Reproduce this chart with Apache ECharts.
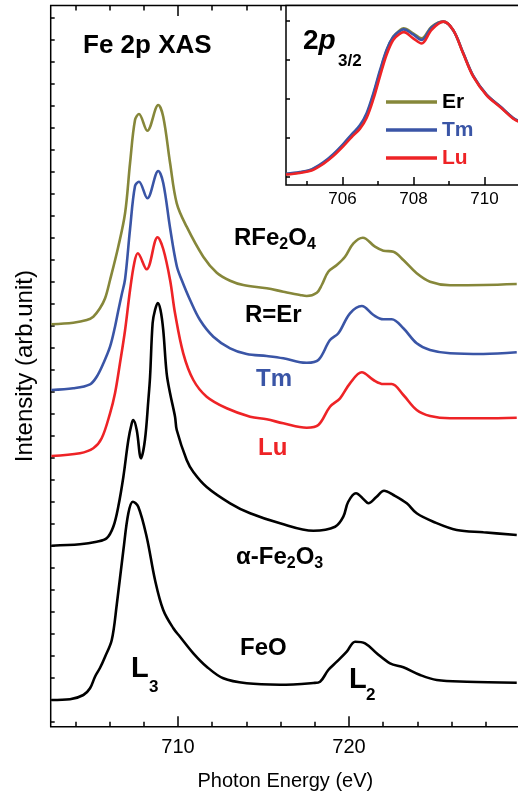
<!DOCTYPE html>
<html><head><meta charset="utf-8">
<script src="https://cdn.jsdelivr.net/npm/echarts@6/dist/echarts.min.js"></script>
<style>html,body{margin:0;padding:0;overflow:hidden;background:#fff}#c{width:520px;height:797px}</style>
</head><body><div id="c"></div>
<script>
// ---------- data (photon energy eV, intensity arb. units) ----------
const erMain = [[702.6,40.24],[703.88,40.40],[704.67,40.67],[705.05,41.0],[705.44,41.84],[705.74,42.84],[706.03,44.67],[706.51,48.0],[706.91,51.37],[707.2,56.37],[707.49,60.67],[707.72,61.27],[708.21,59.6],[708.85,62.17],[709.14,61.0],[709.54,56.37],[709.93,52.34],[710.51,50.0],[711.48,47.0],[712.27,45.4],[713.05,44.6],[713.82,44.17],[715.19,43.84],[716.16,43.5],[717.14,43.17],[717.53,43.07],[718.12,43.4],[718.41,44.17],[718.79,45.5],[719.29,46.17],[719.77,47.0],[720.26,48.34],[720.81,48.9],[721.52,48.0],[722.01,47.6],[722.6,47.5],[723.18,46.67],[723.96,45.34],[724.74,44.5],[725.91,44.14],[727.86,44.17],[729.81,44.27]];
const tmMain = [[702.6,33.67],[703.88,33.84],[704.86,34.24],[705.25,35.0],[705.64,36.34],[706.03,38.0],[706.32,40.0],[706.51,41.6],[706.71,43.2],[706.91,44.77],[707.2,49.77],[707.49,54.07],[707.72,54.5],[708.21,52.84],[708.85,55.57],[709.14,54.37],[709.54,49.87],[709.93,46.07],[710.22,44.67],[710.71,42.67],[711.29,40.67],[712.07,39.0],[713.05,37.84],[714.02,37.27],[715.19,37.07],[716.16,36.84],[717.14,36.45],[717.53,36.4],[718.21,36.67],[718.89,38.67],[719.38,39.34],[720.06,41.34],[720.75,42.07],[721.43,41.17],[722.01,40.74],[722.5,40.74],[723.18,39.84],[723.96,38.34],[724.74,37.67],[725.91,37.34],[727.86,37.27],[729.81,37.44]];
const luMain = [[702.6,27.07],[704.27,27.34],[705.05,27.84],[705.54,28.84],[706.03,31.34],[706.32,33.34],[706.61,36.34],[706.91,39.67],[707.2,43.67],[707.45,46.4],[707.65,47.34],[708.17,45.74],[708.81,48.94],[709.14,47.77],[709.54,44.67],[709.83,41.34],[710.31,37.34],[710.9,34.67],[711.68,33.0],[712.85,31.84],[714.22,31.0],[715.19,30.74],[716.16,30.34],[717.53,29.9],[718.21,30.17],[718.89,32.0],[719.48,32.84],[720.06,34.34],[720.75,35.44],[721.43,34.67],[722.01,34.27],[722.5,34.27],[723.18,33.17],[723.96,31.67],[724.74,31.07],[725.91,30.84],[727.86,30.84],[729.81,30.9]];
const fe2o3 = [[702.6,18.1],[704.27,18.24],[705.25,18.5],[705.83,18.84],[706.22,20.0],[706.51,22.0],[706.81,25.0],[707.1,28.67],[707.3,30.34],[707.39,30.67],[707.59,29.67],[707.84,26.84],[708.07,28.67],[708.27,32.67],[708.37,35.0],[708.52,40.37],[708.66,41.67],[708.82,42.37],[708.98,41.67],[709.14,39.67],[709.34,35.34],[709.54,33.34],[709.83,31.0],[709.93,29.67],[710.51,26.67],[710.9,25.47],[711.68,23.97],[713.05,22.34],[714.22,21.34],[715.97,20.34],[717.92,19.6],[719.19,20.0],[719.67,21.0],[719.95,22.47],[720.41,23.34],[720.9,22.67],[721.13,22.34],[721.6,22.97],[722.05,23.6],[722.6,23.17],[723.38,22.34],[723.96,21.34],[724.93,20.5],[726.3,19.67],[727.86,19.44],[729.81,19.17]];
const feo = [[702.6,2.67],[703.69,2.74],[704.47,3.17],[704.86,3.84],[705.15,5.0],[705.44,5.87],[705.74,7.0],[706.13,8.67],[706.42,12.17],[706.81,17.67],[707.1,21.34],[707.36,22.5],[707.68,22.0],[708.17,19.0],[708.66,14.67],[709.14,11.67],[709.73,9.84],[710.12,9.0],[710.9,7.34],[711.68,6.0],[712.65,4.84],[714.02,4.34],[715.97,4.2],[717.92,4.37],[718.31,4.5],[718.79,5.67],[719.29,6.5],[719.87,7.5],[720.36,8.5],[720.94,8.34],[721.62,7.34],[722.4,6.34],[723.18,5.94],[724.16,5.17],[725.13,4.67],[726.89,4.5],[729.81,4.4]];
// inset (2p3/2 normalized)
const erIn = [[704.41,0.28],[704.8,0.32],[705.13,0.39],[705.46,0.56],[705.74,0.77],[706.02,1.03],[706.26,1.28],[706.49,1.5],[706.68,1.8],[706.87,2.31],[707.06,2.91],[707.25,3.46],[707.43,3.8],[707.62,3.97],[707.72,4.02],[707.99,3.89],[708.23,3.76],[708.51,4.06],[708.84,4.19],[709.12,3.97],[709.4,3.38],[709.69,2.78],[710.06,2.31],[710.44,2.01],[710.81,1.71],[711.0,1.62]];
const tmIn = [[704.41,0.29],[704.8,0.33],[705.13,0.4],[705.46,0.58],[705.74,0.79],[706.02,1.05],[706.26,1.3],[706.49,1.53],[706.68,1.84],[706.87,2.35],[707.06,2.95],[707.25,3.48],[707.43,3.8],[707.62,3.95],[707.72,3.99],[707.99,3.86],[708.23,3.72],[708.51,4.04],[708.84,4.19],[709.12,3.97],[709.4,3.39],[709.69,2.79],[710.06,2.32],[710.44,2.02],[710.81,1.72],[711.0,1.63]];
const luIn = [[704.41,0.27],[704.8,0.31],[705.13,0.37],[705.46,0.54],[705.74,0.74],[706.02,0.99],[706.26,1.23],[706.49,1.44],[706.68,1.72],[706.87,2.2],[707.06,2.8],[707.25,3.36],[707.43,3.72],[707.62,3.88],[707.73,3.92],[707.99,3.76],[708.23,3.63],[708.51,3.98],[708.84,4.19],[709.12,3.97],[709.4,3.37],[709.69,2.77],[710.06,2.3],[710.44,2.0],[710.81,1.7],[711.0,1.61]];
// tick labels / tick positions
const mainTickLabels = [710, 720];
const mainMinorTicks = [704,706,708,712,714,716,718,722,724,726,728];
const insetTickLabels = [706, 708, 710];
const insetMinorTicks = [705, 707, 709];
const mainYTicks = []; for (let k = 0; k <= 32; k++) mainYTicks.push(+(0.47 + 2.202 * k).toFixed(3));
const insetYTicks = [0.213, 1.213, 2.213, 3.213, 4.213];

// ---------- styles ----------
const FONT = '"Liberation Sans", Arial, Helvetica, sans-serif';
const C_ER = '#86873a', C_TM = '#3a55a6', C_LU = '#ee2326', C_K = '#000000';
const tickStyle = {color:'#000', width:1.5};

function xAx(grid, min, max, pos, ticks, len, labels, labelSize, labelMargin, extra) {
  return Object.assign({
    gridIndex: grid, type:'value', min, max, position: pos,
    axisLine:{show:false, onZero:false}, splitLine:{show:false},
    axisTick:{show:true, inside:true, length:len, customValues:ticks, lineStyle:tickStyle},
    axisLabel: labels ? {show:true, customValues:labels, color:'#000', fontFamily:FONT, fontSize:labelSize, margin:labelMargin} : {show:false}
  }, extra || {});
}

const rich = {
  b:{fontSize:24, fontWeight:'bold', fontFamily:FONT, fill:'#000', lineHeight:30},
  s:{fontSize:16, fontWeight:'bold', fontFamily:FONT, fill:'#000', lineHeight:14, verticalAlign:'bottom'}
};
function txt(x, y, text, size, color, extra) {
  return Object.assign({type:'text', x, y, z:20, style:{text, font:`bold ${size}px ${FONT}`, fill:color||'#000', textVerticalAlign:'middle', verticalAlign:'middle'}}, extra||{});
}

const option = {
  animation:false,
  backgroundColor:'#fff',
  grid:[
    {left:50.7, top:5.5, width:469.3, height:721.2, show:true, borderColor:'#000', borderWidth:1.5, backgroundColor:'transparent', z:0},
    {left:286, top:5.5, width:234, height:179.5, show:true, borderColor:'#000', borderWidth:1.5, backgroundColor:'#fff', z:5}
  ],
  xAxis:[
    xAx(0, 702.56, 730, 'bottom', mainMinorTicks, 5, mainTickLabels, 20, 11, {
      name:'Photon Energy (eV)', nameLocation:'middle', nameGap:45,
      nameTextStyle:{fontSize:20, fontFamily:FONT, color:'#000'}}),
    xAx(0, 702.56, 730, 'bottom', mainTickLabels, 10.5, null),
    xAx(0, 702.56, 730, 'top', mainMinorTicks, 5, null),
    xAx(0, 702.56, 730, 'top', mainTickLabels, 10.5, null),
    xAx(1, 704.41, 711, 'bottom', insetMinorTicks, 4, insetTickLabels, 17, 6, {z:6}),
    xAx(1, 704.41, 711, 'bottom', insetTickLabels, 8, null, 0, 0, {z:6})
  ],
  yAxis:[
    {gridIndex:0, type:'value', min:0, max:72.12, axisLine:{show:false,onZero:false}, splitLine:{show:false},
     axisTick:{show:true, inside:true, length:4, customValues:mainYTicks, lineStyle:tickStyle},
     axisLabel:{show:false},
     name:'Intensity (arb.unit)', nameLocation:'middle', nameGap:13,
     nameTextStyle:{fontSize:24, fontFamily:FONT, color:'#000'}},
    {gridIndex:1, type:'value', min:0, max:4.603, z:6, axisLine:{show:false,onZero:false}, splitLine:{show:false},
     axisTick:{show:true, inside:true, length:4, customValues:insetYTicks, lineStyle:tickStyle},
     axisLabel:{show:false}}
  ],
  legend:{
    show:true, orient:'vertical', left:381, top:86.5, itemWidth:51, itemHeight:3.5, itemGap:7,
    icon:'rect', selectedMode:false, z:10,
    textStyle:{fontSize:21, fontWeight:'bold', fontFamily:FONT},
    data:[{name:'Er', textStyle:{color:'#000'}},{name:'Tm', textStyle:{color:C_TM}},{name:'Lu', textStyle:{color:C_LU}}]
  },
  series:[
    {name:'Er main', type:'line', xAxisIndex:0, yAxisIndex:0, data:erMain, color:C_ER},
    {name:'Tm main', type:'line', xAxisIndex:0, yAxisIndex:0, data:tmMain, color:C_TM},
    {name:'Lu main', type:'line', xAxisIndex:0, yAxisIndex:0, data:luMain, color:C_LU},
    {name:'a-Fe2O3', type:'line', xAxisIndex:0, yAxisIndex:0, data:fe2o3, color:C_K},
    {name:'FeO', type:'line', xAxisIndex:0, yAxisIndex:0, data:feo, color:C_K},
    {name:'Er', type:'line', xAxisIndex:4, yAxisIndex:1, data:erIn, color:C_ER, z:7},
    {name:'Tm', type:'line', xAxisIndex:4, yAxisIndex:1, data:tmIn, color:C_TM, z:7},
    {name:'Lu', type:'line', xAxisIndex:4, yAxisIndex:1, data:luIn, color:C_LU, z:7}
  ].map(s => Object.assign({symbol:'none', showSymbol:false, smooth:0.35, silent:true, clip:true,
      lineStyle:{color:s.color, width:2.6}, itemStyle:{color:s.color}, z:2}, s)),
  graphic:{elements:[
    txt(83, 46, 'Fe 2p XAS', 26),
    {type:'text', x:234, y:238, z:20, style:{text:'{b|RFe}{s|2}{b|O}{s|4}', rich, textVerticalAlign:'middle', verticalAlign:'middle'}},
    txt(245, 315, 'R=Er', 24),
    txt(256, 379, 'Tm', 24, C_TM),
    txt(258, 448, 'Lu', 24, C_LU),
    {type:'text', x:236, y:557, z:20, style:{text:'{b|α-Fe}{s|2}{b|O}{s|3}', rich, textVerticalAlign:'middle', verticalAlign:'middle'}},
    txt(240, 648, 'FeO', 24),
    txt(131, 669, 'L', 29),
    txt(149, 687, '3', 17),
    txt(349, 680, 'L', 29),
    txt(366, 695, '2', 17),
    {type:'text', x:303, y:41, z:20, style:{text:'{b|2}{i|p}', rich:{
      b:{fontSize:28, fontWeight:'bold', fontFamily:FONT, fill:'#000'},
      i:{fontSize:28, fontWeight:'bold', fontStyle:'italic', fontFamily:FONT, fill:'#000'}},
      textVerticalAlign:'middle', verticalAlign:'middle'}},
    txt(338, 61, '3/2', 17)
  ]}
};
const chart = echarts.init(document.getElementById('c'), null, {renderer:'canvas', width:520, height:797});
chart.setOption(option);
</script></body></html>
